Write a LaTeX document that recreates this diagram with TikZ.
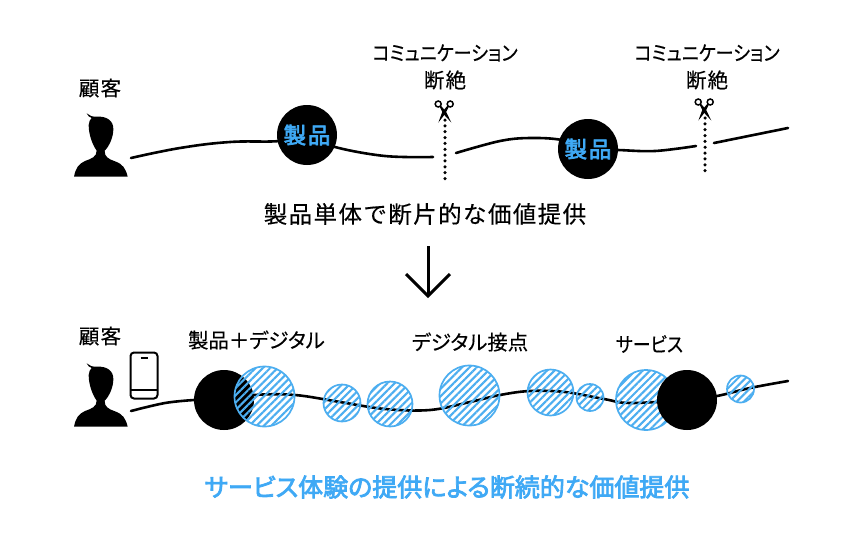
\documentclass[tikz,border=0pt]{standalone}
\usepackage{fontspec}
\usepackage{graphicx}
\setmainfont{Noto Sans CJK JP}
\newfontfamily\jp[RawFeature=+palt,FakeBold=0.25]{Noto Sans CJK JP}
\newfontfamily\jpwide[LetterSpace=6,FakeBold=0.25]{Noto Sans CJK JP}
\newfontfamily\jpmed[RawFeature=+palt,FakeBold=3]{Noto Sans CJK JP}
\newfontfamily\jpmedwide[LetterSpace=8,FakeBold=3]{Noto Sans CJK JP}
\usetikzlibrary{patterns.meta}
\definecolor{hatchblue}{HTML}{4CAEF0}
\definecolor{headblue}{HTML}{3FA9F5}
\tikzset{
  x=1pt,y=-1pt,
  flow/.style={line width=2.6pt,black,line cap=round},
  solid disc/.style={circle,fill=black,inner sep=0pt,outer sep=0pt},
  hatched/.style={circle,draw=hatchblue,line width=1.7pt,inner sep=0pt,outer sep=0pt,
    pattern={Lines[angle=45,distance=5.2pt,line width=2.1pt]},pattern color=hatchblue},
  cut/.style={line width=3.5pt,dash pattern=on 0pt off 5.85pt,line cap=round},
  label/.style={inner sep=0pt,font=\fontsize{20.5}{24}\selectfont\jpwide},
  kana/.style={inner sep=0pt,font=\fontsize{20.4}{24}\selectfont\jp},
  productlabel/.style={inner sep=0pt,text=headblue,font=\fontsize{22.5}{26}\selectfont\jpmedwide},
  person/.pic={
    \fill[black,scale=1/3] (42,440) .. controls (47,415) and (55,402) .. (75,393)
      .. controls (95,386) and (110,380) .. (110,362)
      .. controls (98,345) and (86,315) .. (86,285)
      .. controls (87,275) and (90,268) .. (95,264)
      .. controls (88,262) and (83,257) .. (80,250)
      .. controls (88,257) and (98,261) .. (110,260)
      .. controls (140,258) and (161,272) .. (160,298)
      .. controls (160,322) and (147,350) .. (134,362)
      .. controls (133,380) and (145,387) .. (165,394)
      .. controls (188,402) and (197,415) .. (203,440) -- cycle;
  },
  scissors/.pic={
    \draw[black,line width=1.5pt] (-6.8,-9) circle (3);
    \draw[black,line width=1.5pt] (5.2,-9) circle (3);
    \fill[black] (-5.5,-6.5) -- (-4.2,-7.5) -- (1.2,-1) -- (6.3,9.5) -- (-1.8,0.8) -- cycle;
    \fill[black] (3.9,-6.5) -- (2.6,-7.5) -- (-2.8,-1) -- (-6.6,9.5) -- (0.2,0.8) -- cycle;
  }
}
\begin{document}
\begin{tikzpicture}
\useasboundingbox (0,0) rectangle (862,550);
\fill[white] (0,0) rectangle (862,550);

% ---------- top row
\pic at (60,30) {person};
\coordinate (a0) at (131,158);
\coordinate (a1) at (307,135);
\coordinate (a2) at (433,157);
\coordinate (a3) at (456,153);
\coordinate (a4) at (588,149);
\coordinate (a5) at (696,146);
\coordinate (a6) at (714,143);
\coordinate (a7) at (788,128);
\draw[flow] plot[smooth,tension=.7] coordinates {(a0) (180,148) (230,142) (280,141) (a1)};
\draw[flow] plot[smooth,tension=.6] coordinates {(a1) (335,147) (385,156) (a2)};
\draw[flow] plot[smooth,tension=.6] coordinates {(a3) (500,141) (530,138) (562,140) (a4)};
\draw[flow] plot[smooth,tension=.6] coordinates {(a4) (618,150) (655,151) (a5)};
\draw[flow] (a6) -- (a7);
\node[solid disc,minimum size=60pt] (p1) at (a1) {};
\node[solid disc,minimum size=60pt] (p2) at (a4) {};
\node[productlabel] (p1t) at (p1) {製品};
\node[productlabel] (p2t) at (p2) {製品};

\coordinate (c1t) at (445,120);
\coordinate (c1b) at (445,180);
\coordinate (c2t) at (705,118);
\coordinate (c2b) at (705,176);
\draw[cut] (c1t) -- (c1b);
\draw[cut] (c2t) -- (c2b);
\pic at (445,113) {scissors};
\pic at (705,111) {scissors};

\node[label] (n1) at (100,88) {顧客};
\node[kana] (n2) at (445,53) {\scalebox{0.89}[1]{コミュニケーション}};
\node[label] (n3) at (445,80) {断絶};
\node[kana] (n4) at (707,53) {\scalebox{0.89}[1]{コミュニケーション}};
\node[label] (n5) at (707,80) {断絶};
\node[inner sep=0pt,font=\fontsize{23.5}{28}\selectfont\jpwide] (n6) at (425,214) {製品単体で断片的な価値提供};

% ---------- arrow
\coordinate (ar0) at (428,246);
\coordinate (ar1) at (428,296);
\coordinate (arl) at (406,274);
\coordinate (arr) at (450,274);
\draw[black,line width=3pt] (ar0) -- (ar1);
\draw[black,line width=3pt,line join=miter] (arl) -- (ar1) -- (arr);

% ---------- bottom row
\pic at (60,280) {person};
\draw[black,line width=2pt,rounded corners=3.5pt] (130.5,352.5) rectangle (157.5,398.5);
\coordinate (ph1) at (131,390); \coordinate (ph2) at (157.5,390);
\coordinate (ph3) at (140.5,358); \coordinate (ph4) at (147.5,358);
\draw[black,line width=2pt] (ph1) -- (ph2);
\draw[black,line width=2pt] (ph3) -- (ph4);

\coordinate (b0) at (131,411);
\coordinate (b1) at (224,400);
\coordinate (b2) at (687,400);
\coordinate (b3) at (788,381);
\node[solid disc,minimum size=60pt] (d1) at (b1) {};
\draw[flow] plot[smooth,tension=.6] coordinates {(b0) (165,403) (d1.west)};
\draw[flow] plot[smooth,tension=.6] coordinates {(d1.center) (254,395) (295,395) (340,402) (385,409) (430,410) (470,402) (500,395) (530,391) (565,392) (604,399) (630,403) (b2)};
\draw[flow] plot[smooth,tension=.6] coordinates {(b2) (717,396) (750,388) (b3)};
\node[hatched,minimum size=60pt] (h1) at (264.5,396.5) {};
\node[hatched,minimum size=37pt] (h2) at (342,403) {};
\node[hatched,minimum size=45pt] (h3) at (390,404) {};
\node[hatched,minimum size=60pt] (h4) at (469.5,395.5) {};
\node[hatched,minimum size=46pt] (h5) at (550.5,392.5) {};
\node[hatched,minimum size=27pt] (h6) at (590,397.5) {};
\node[hatched,minimum size=60pt] (h7) at (646,400) {};
\node[hatched,minimum size=27pt] (h8) at (740.5,389) {};
\node[solid disc,minimum size=60pt] (d2) at (b2) {};

\node[label] (m1) at (100,336) {顧客};
\node[kana] (m2) at (256.5,340) {製品＋デジタル};
\node[kana] (m3) at (470,342) {デジタル接点};
\node[kana] (m4) at (649.5,344) {\scalebox{0.88}[1]{サービス}};
\node[inner sep=0pt,text=headblue,font=\fontsize{25}{30}\selectfont\jpmed] (m5) at (447,487) {サービス体験の提供による断続的な価値提供};
\end{tikzpicture}
\end{document}
